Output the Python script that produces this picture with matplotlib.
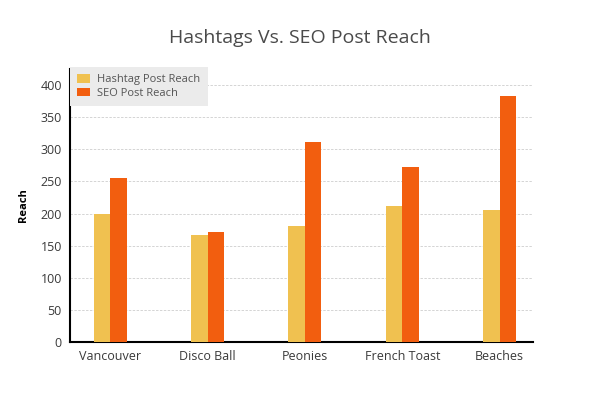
import numpy as np
import matplotlib.pyplot as plt

categories = ["Vancouver", "Disco Ball", "Peonies", "French Toast", "Beaches"]
hashtag_reach = [200, 167, 181, 211, 206]
seo_reach = [256, 172, 311, 273, 383]

plt.rcParams['font.family'] = ['Open Sans', 'DejaVu Sans']

fig = plt.figure(figsize=(6, 4), dpi=100)
ax = fig.add_axes([0.117, 0.145, 0.771, 0.6825])

x = np.arange(len(categories))
w = 0.17
ax.bar(x - w / 2, hashtag_reach, w, color='#f0c150', label='Hashtag Post Reach', zorder=3)
ax.bar(x + w / 2, seo_reach, w, color='#f25e0f', label='SEO Post Reach', zorder=3)

ax.set_xlim(-0.41, 4.34)
ax.set_ylim(0, 425)
ax.set_yticks(range(0, 401, 50))
ax.set_xticks(x)
ax.set_xticklabels(categories)
ax.tick_params(length=0, labelsize=9, labelcolor='#3a3a3a', pad=6)
ax.yaxis.grid(True, linestyle=(0, (2.5, 1.5)), color='#d4d4d4', linewidth=0.7, zorder=0)

for s in ['top', 'right']:
    ax.spines[s].set_visible(False)
ax.spines['left'].set_linewidth(1.5)
ax.spines['bottom'].set_linewidth(1.5)

ax.set_ylabel('Reach', fontsize=8, fontweight='bold', labelpad=8)
fig.text(0.5, 0.905, 'Hashtags Vs. SEO Post Reach', ha='center', va='center',
         fontsize=14, color='#4a4a4a')

leg = ax.legend(loc='upper left', bbox_to_anchor=(0.0, 1.008), fontsize=8,
                frameon=True, fancybox=False, borderaxespad=0,
                handlelength=1.1, handleheight=0.8, labelspacing=0.25,
                borderpad=0.65, handletextpad=0.7)
leg.get_frame().set_facecolor('#ebebeb')
leg.get_frame().set_edgecolor('none')
leg.get_frame().set_alpha(1)
for t in leg.get_texts():
    t.set_color('#555555')

fig.savefig('out.png')
